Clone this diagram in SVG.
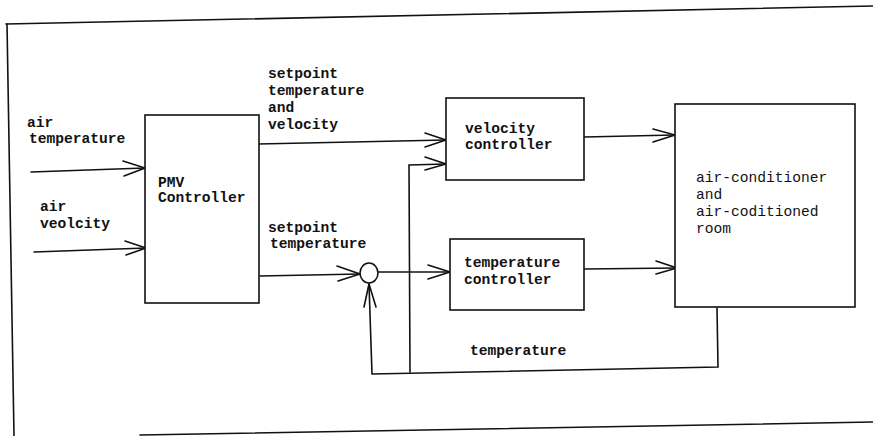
<svg xmlns="http://www.w3.org/2000/svg" width="873" height="436" viewBox="0 0 873 436">
<defs>
<style>
.ln{fill:none;stroke:#111;stroke-width:1.6;stroke-linecap:round;stroke-linejoin:miter}
.box{fill:#fff;stroke:#111;stroke-width:1.6}
.t{font-family:"Liberation Mono","DejaVu Sans Mono",monospace;font-size:14.6px;font-weight:bold;fill:#111}
.tn{font-family:"Liberation Mono","DejaVu Sans Mono",monospace;font-size:14.6px;fill:#111}
</style>
</defs>
<rect width="873" height="436" fill="#fff"/>
<g id="frame" class="ln">
<line x1="6" y1="24" x2="873" y2="6"/>
<line x1="7" y1="24" x2="14" y2="436"/>
<line x1="140" y1="435" x2="873" y2="422"/>
</g>
<g id="connectors" class="ln">
<line x1="31" y1="172" x2="145" y2="168"/>
<polyline points="123,161 145,168 124,176"/>
<line x1="34" y1="252" x2="146" y2="248"/>
<polyline points="125,241 146,248 126,255"/>
<line x1="258" y1="144" x2="446" y2="140"/>
<polyline points="425,133 446,140 425,147"/>
<polyline points="410,372 409,165 446,164"/>
<polyline points="425,157 446,164 425,170"/>
<line x1="260" y1="276" x2="360" y2="274"/>
<polyline points="337,266 360,274 338,281"/>
<line x1="378" y1="272" x2="450" y2="272"/>
<polyline points="428,265 450,272 428,279"/>
<line x1="584" y1="137" x2="675" y2="135"/>
<polyline points="653,129 675,135 653,142"/>
<line x1="584" y1="269" x2="677" y2="268"/>
<polyline points="656,261 677,268 656,274"/>
<polyline points="717,308 718,367 372,374 369,284"/>
<polyline points="364,307 369,284 376,307"/>
</g>
<g id="sum">
<ellipse cx="369" cy="273" rx="9" ry="10" class="box"/>
</g>
<g id="pmv">
<rect x="145" y="115" width="114" height="188" class="box"/>
<text class="t" x="158" y="187">PMV</text>
<text class="t" x="158" y="202">Controller</text>
</g>
<g id="velocity">
<rect x="446" y="98" width="138" height="82" class="box"/>
<text class="t" x="465" y="133">velocity</text>
<text class="t" x="465" y="149">controller</text>
</g>
<g id="temperature">
<rect x="450" y="239" width="134" height="71" class="box"/>
<text class="t" x="464" y="267">temperature</text>
<text class="t" x="464" y="284">controller</text>
</g>
<g id="ac">
<rect x="675" y="104" width="180" height="203" class="box"/>
<text class="tn" x="696" y="182">air-conditioner</text>
<text class="tn" x="696" y="199">and</text>
<text class="tn" x="696" y="216">air-coditioned</text>
<text class="tn" x="696" y="233">room</text>
</g>
<g id="labels">
<text class="t" x="27" y="127">air</text>
<text class="t" x="29" y="143">temperature</text>
<text class="t" x="40" y="211">air</text>
<text class="t" x="40" y="228">veolcity</text>
<text class="t" x="268" y="78">setpoint</text>
<text class="t" x="268" y="95">temperature</text>
<text class="t" x="268" y="112">and</text>
<text class="t" x="268" y="129">velocity</text>
<text class="t" x="268" y="232">setpoint</text>
<text class="t" x="270" y="248">temperature</text>
<text class="t" x="470" y="355">temperature</text>
</g>
</svg>
